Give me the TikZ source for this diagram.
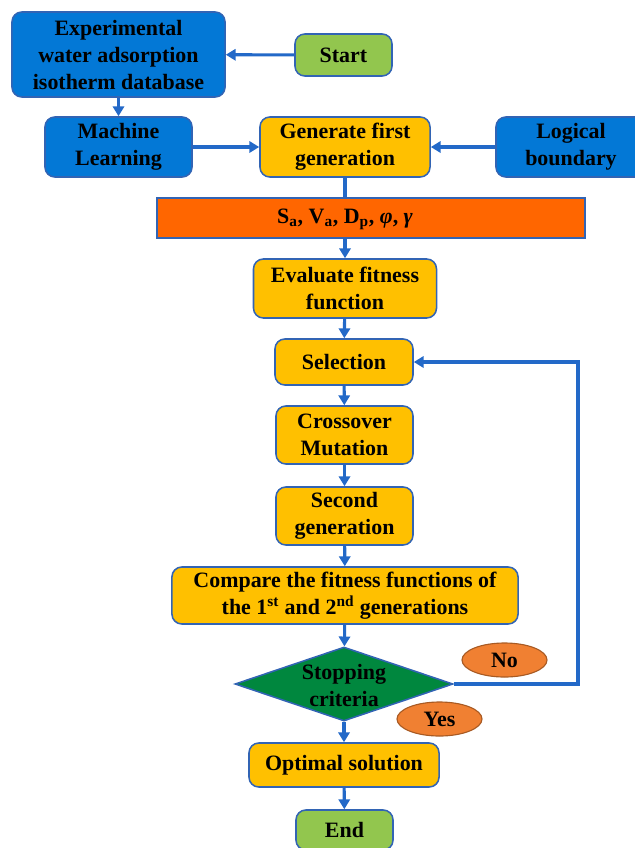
\documentclass[tikz,border=0pt]{standalone}
\usepackage{fontspec}
\setmainfont{Liberation Serif}
\usetikzlibrary{shapes.geometric}
\usetikzlibrary{arrows.meta}
\definecolor{boxblue}{RGB}{3,120,214}
\definecolor{boxgreen}{RGB}{146,198,78}
\definecolor{boxgold}{RGB}{255,192,0}
\definecolor{barorange}{RGB}{255,102,0}
\definecolor{diagreen}{RGB}{0,135,62}
\definecolor{ovalorange}{RGB}{240,128,50}
\definecolor{edgeblue}{RGB}{50,100,180}
\definecolor{linkblue}{RGB}{35,105,200}

\begin{document}
\begin{tikzpicture}[x=0.025cm,y=-0.025cm,
  font=\fontsize{15.6}{19.2}\selectfont\bfseries,
  box/.style={draw=edgeblue,line width=1.1pt,rounded corners=7pt,align=center,inner sep=0pt},
  bluebox/.style={box,fill=boxblue},
  greenbox/.style={box,fill=boxgreen},
  goldbox/.style={box,fill=boxgold},
  decision/.style={diamond,draw=edgeblue,line width=1.1pt,fill=diagreen,aspect=2.95,inner sep=0pt},
  oval/.style={ellipse,draw=ovalorange!70!black,line width=0.8pt,fill=ovalorange,inner sep=0pt,
    minimum width=2.125cm,minimum height=0.85cm},
  link/.style={draw=linkblue,line width=2.2pt},
  arrow/.style={link,-{Triangle[width=8pt,length=7pt]}}]
\useasboundingbox (0,0) rectangle (635,848);
\begin{scope}
\clip (0,0) rectangle (635,848);
\node[bluebox,minimum width=5.325cm,minimum height=2.125cm] (expdb) at (118.5,54.5)
  {Experimental\\water adsorption\\isotherm database}; %database
\node[greenbox,minimum width=2.425cm,minimum height=1.05cm] (start) at (343.5,55) {Start};
\node[bluebox,minimum width=3.675cm,minimum height=1.5cm] (ml) at (118.5,147) {Machine\\Learning};
\node[goldbox,minimum width=4.25cm,minimum height=1.5cm] (gen1) at (345,147) {Generate first\\generation};
\node[bluebox,minimum width=3.75cm,minimum height=1.5cm] (logic) at (571,147) {Logical\\boundary};

\node[draw=edgeblue,line width=1.1pt,fill=barorange,minimum width=10.7cm,minimum height=1cm] (params) at (371,218) {}; %parameter bar
\node (paramtext) at (345,219) {S\textsubscript{a}, V\textsubscript{a}, D\textsubscript{p}, \textit{φ}, \textit{γ}};

\node[goldbox,minimum width=4.575cm,minimum height=1.475cm] (evalfit) at (345,288.5) {Evaluate fitness\\function};
\node[goldbox,minimum width=3.45cm,minimum height=1.15cm] (select) at (344,362) {Selection};
\node[goldbox,minimum width=3.425cm,minimum height=1.45cm] (cross) at (344.5,435) {Crossover\\Mutation};
\node[goldbox,minimum width=3.425cm,minimum height=1.45cm] (gen2) at (344.5,516) {Second\\generation};
\node[goldbox,minimum width=8.65cm,minimum height=1.425cm] (compare) at (345,595.5)
  {Compare the fitness functions of\\the 1\textsuperscript{st} and 2\textsuperscript{nd} generations};

\node[decision,minimum width=5.45cm,minimum height=1.85cm] (stop) at (344,684) {}; %stopping test
\node[align=center] (stoptext) at (344,685) {Stopping\\criteria};
\node[oval] (no) at (504.5,660) {No};
\node[oval] (yes) at (439.5,719) {Yes};

\node[goldbox,minimum width=4.75cm,minimum height=1.1cm] (optimal) at (344,765) {Optimal solution};
\node[greenbox,minimum width=2.425cm,minimum height=1cm] (endn) at (344.5,830) {End};

%connectors
\draw[arrow] (start) -- (expdb);
\draw[arrow] (expdb) -- (ml);
\draw[arrow] (ml) -- (gen1);
\draw[arrow] (logic) -- (gen1);
\draw[link] (gen1.south) -- (gen1.south |- params.north);
\draw[arrow] (evalfit.north |- params.south) -- (evalfit.north);
\draw[arrow] (evalfit) -- (select);
\draw[arrow] (select) -- (cross);
\draw[arrow] (cross) -- (gen2);
\draw[arrow] (gen2) -- (compare);
\draw[arrow] (compare) -- (stop);
\draw[arrow] (stop) -- (optimal);
\draw[arrow] (optimal) -- (endn);
\coordinate (loop) at (578,684); %feedback corner
\draw[arrow] (stop.east) -- (loop) |- (select.east);
\end{scope}
\end{tikzpicture}
\end{document}
